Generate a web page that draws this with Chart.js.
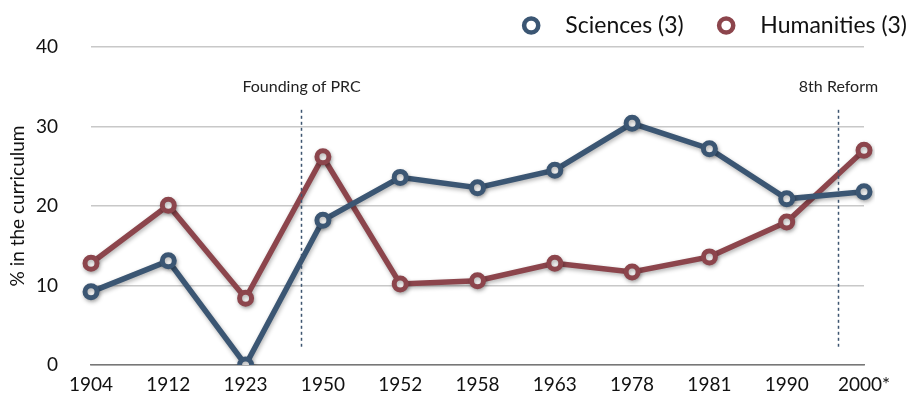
<!DOCTYPE html>
<html><head><meta charset="utf-8">
<script src="https://cdn.jsdelivr.net/npm/chart.js@4/dist/chart.umd.min.js"></script>
<style>html,body{margin:0;padding:0;background:#fff}#wrap{width:911px;height:402px}</style>
</head><body><div id="wrap"><canvas id="c"></canvas></div>
<script>
const years = ['1904','1912','1923','1950','1952','1958','1963','1978','1981','1990','2000*'];
const sciences = [9.2,13.1,0,18.2,23.6,22.3,24.5,30.4,27.2,20.9,21.8];
const humanities = [12.8,20.1,8.4,26.2,10.2,10.6,12.8,11.7,13.6,18.0,27.0];
const yTicks = [0,10,20,30,40];
const eventLabels = ['Founding of PRC','8th Reform'];
const eventIndex = [2.72,9.66];

const FONT = 'Lato, "Open Sans", sans-serif';
const eventPlugin = {
  id:'events',
  afterDatasetsDraw(chart){
    const {ctx, scales:{x,y}} = chart;
    ctx.save();
    eventIndex.forEach((v,i)=>{
      const px = Math.round(x.getPixelForValue(v))+0.5;
      ctx.strokeStyle='#3d5570';ctx.lineWidth=1.5;ctx.setLineDash([3,3]);
      ctx.beginPath();ctx.moveTo(px,y.getPixelForValue(32.1));ctx.lineTo(px,y.getPixelForValue(2.3));ctx.stroke();
      ctx.setLineDash([]);
      ctx.fillStyle='#222';ctx.font='16px '+FONT;ctx.textAlign='center';ctx.textBaseline='middle';
      ctx.fillText(eventLabels[i],px,y.getPixelForValue(35.0));
    });
    ctx.restore();
  }
};
const shadowPlugin = {
  id:'shadow',
  beforeDatasetsDraw(chart){const c=chart.ctx;c.save();c.shadowColor='rgba(0,0,0,0.3)';c.shadowBlur=4;c.shadowOffsetY=2;c.shadowOffsetX=1;},
  afterDatasetsDraw(chart){chart.ctx.restore();}
};
const chart = new Chart(document.getElementById('c'),{
  type:'line',
  data:{labels:years,datasets:[
    {label:'Sciences (3)',data:sciences,borderColor:'#3b5673',backgroundColor:'#ffffff',borderWidth:5.5,pointRadius:6,pointBorderWidth:5,pointBackgroundColor:'#fff',pointBorderColor:'#3b5673',tension:0},
    {label:'Humanities (3)',data:humanities,borderColor:'#8c454c',backgroundColor:'#ffffff',borderWidth:5.5,pointRadius:6,pointBorderWidth:5,pointBackgroundColor:'#fff',pointBorderColor:'#8c454c',tension:0}
  ]},
  options:{
    responsive:true,maintainAspectRatio:false,animation:false,
    layout:{padding:{left:2,right:-10,top:0,bottom:6}},
    plugins:{
      legend:{position:'top',align:'end',labels:{usePointStyle:true,pointStyle:'circle',boxWidth:10,boxHeight:10,padding:14,color:'#111',font:{family:FONT,size:23},
        generateLabels:(c)=>{
          const items = Chart.defaults.plugins.legend.labels.generateLabels(c);
          items.forEach((it,i)=>{ it.text = '   ' + it.text + (i < items.length-1 ? '    ' : ''); it.lineWidth = 4.5; });
          return items;
        }}},
      tooltip:{enabled:false}
    },
    scales:{
      x:{offset:false,grid:{display:false,drawTicks:false},border:{color:'#777',width:1.5},
         afterFit:(s)=>{s.paddingRight=47;s.height=31;},
         ticks:{color:'#111',font:{family:FONT,size:19},padding:8,maxRotation:0,autoSkip:false}},
      y:{min:0,max:40,afterBuildTicks:(s)=>{s.ticks=yTicks.map(v=>({value:v}));},
         afterFit:(s)=>{s.width=89;s.paddingTop=0;s.paddingBottom=0;},
         grid:{color:'#c8c8c8',lineWidth:1.5,drawTicks:false},border:{display:false},
         ticks:{color:'#111',font:{family:FONT,size:19},padding:33},
         title:{display:true,text:'% in the curriculum',color:'#111',font:{family:FONT,size:19},padding:{top:4,bottom:0}}}
    }
  },
  plugins:[shadowPlugin,eventPlugin]
});
</script></body></html>
